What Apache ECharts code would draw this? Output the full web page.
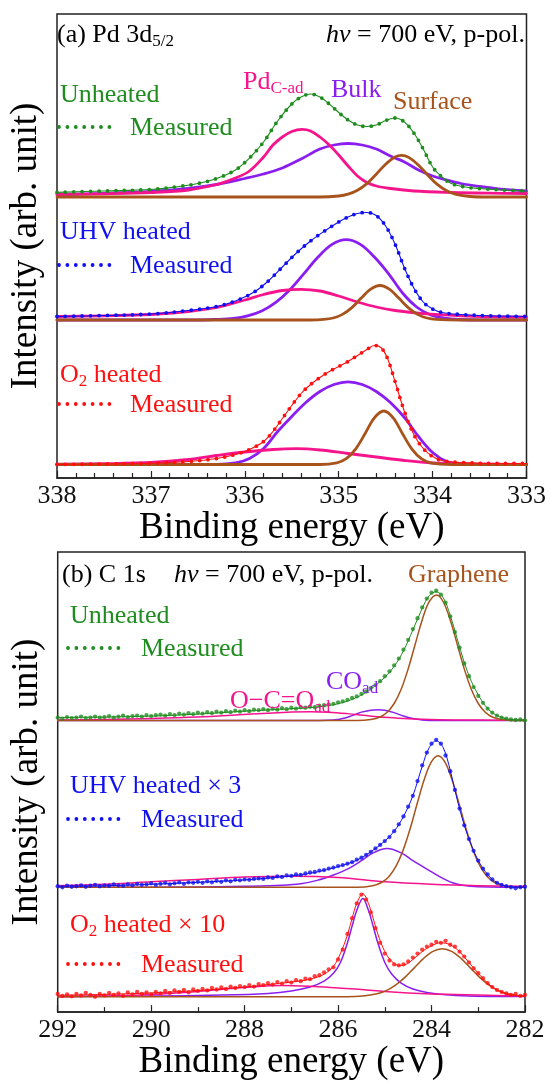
<!DOCTYPE html>
<html lang="en">
<head>
<meta charset="UTF-8">
<title>Pd 3d / C 1s XPS</title>
<script src="https://cdn.jsdelivr.net/npm/echarts@6/dist/echarts.min.js"></script>
<style>html,body{margin:0;padding:0;background:#fff;}</style>
</head>
<body>
<div id="main" style="width:549px;height:1082px;"></div>
<script>
// energies in eV, heights above each spectrum's own baseline (arbitrary units)

// ---- (a) Pd 3d5/2 ----
const aTicks = [338, 337, 336, 335, 334, 333];
const aBase = [281, 158, 13.5]; // unheated, UHV heated, O2 heated

const aUnheatedEnv = [[338,4.6],[337.5,6],[337,7.5],[336.7,10.5],[336.5,13.5],[336.3,18.5],[336.1,27],[335.95,39],[335.8,55],[335.65,76],[335.5,93],[335.4,100],[335.3,103],[335.2,100],[335.1,93],[335.0,84.5],[334.9,77],[334.8,72],[334.7,70.5],[334.6,72],[334.5,76.5],[334.4,79],[334.3,75],[334.2,64],[334.1,48],[334.0,30],[333.9,20],[333.8,13.5],[333.65,10],[333.5,8.5],[333.25,7],[333,6]];
const aUnheatedBulk = [[338,2.5],[337.5,3.6],[337,5.5],[336.6,8.5],[336.3,12.5],[336.0,18.5],[335.8,23],[335.6,29],[335.4,38],[335.2,48],[335.05,52],[334.9,53.5],[334.75,52],[334.6,48],[334.45,41],[334.3,35],[334.15,27],[334.0,21],[333.85,17],[333.7,13.5],[333.5,10.5],[333.3,8.2],[333,6]];
const aUnheatedPd = [[338,2.5],[337.5,3.2],[337,4.5],[336.6,7],[336.3,12.5],[336.1,19],[335.95,26],[335.8,40],[335.7,52],[335.6,60],[335.5,65.5],[335.39,67.6],[335.3,66],[335.2,60],[335.1,52],[335.0,42],[334.9,31],[334.8,21],[334.7,14.5],[334.6,11],[334.45,8.5],[334.2,6],[333.8,4.5],[333.4,3.8],[333,3.5]];
const aUnheatedSurf = [[338,0],[335.2,0],[335.0,1],[334.9,2.8],[334.8,6.7],[334.7,13.4],[334.6,22.8],[334.5,32.8],[334.4,40],[334.33,41.6],[334.25,39.4],[334.15,31.8],[334.05,21.8],[333.95,12.6],[333.85,6.2],[333.75,2.6],[333.6,0.5],[333.4,0],[333,0]];

const aUhvEnv = [[338,3.5],[337.5,4.5],[337,6],[336.6,9.5],[336.3,13.5],[336.1,19],[335.9,28],[335.75,39],[335.6,53],[335.45,67],[335.3,79],[335.15,89],[335.0,98],[334.9,103],[334.8,106.5],[334.7,107.5],[334.6,104.5],[334.5,94],[334.4,76],[334.3,52],[334.2,32],[334.1,18],[334.0,11],[333.9,7.5],[333.7,5.5],[333.4,4.2],[333,3.5]];
const aUhvBulk = [[338,0],[336.5,0],[336.32,0.5],[336.12,1.6],[335.97,4.1],[335.82,9],[335.67,17.6],[335.52,30.3],[335.37,46.4],[335.22,63],[335.07,75.6],[334.92,80.3],[334.77,75.6],[334.62,63],[334.47,46.4],[334.32,27],[334.17,13],[334.02,5],[333.87,1.8],[333.72,0.5],[333.5,0],[333,0]];
const aUhvPd = [[338,3.5],[337.5,4.2],[337,5.5],[336.6,8.5],[336.3,12.5],[336.0,20],[335.8,25.5],[335.6,29.5],[335.4,30.7],[335.2,29],[335.0,24],[334.8,18],[334.6,13],[334.4,9.5],[334.1,6.3],[333.7,4.2],[333.3,3.2],[333,2.8]];
const aUhvSurf = [[338,0],[335.3,0],[335.16,0.6],[335.06,2],[334.96,5.6],[334.86,12.4],[334.76,21.9],[334.66,30.8],[334.56,34.5],[334.46,30.8],[334.36,21.9],[334.26,12.4],[334.16,5.6],[334.06,2],[333.96,0.6],[333.7,0],[333,0]];

const aO2Env = [[338,0],[337.5,0.5],[337,1.2],[336.6,3],[336.3,6],[336.1,10],[335.95,15],[335.8,23],[335.7,33],[335.6,46],[335.5,59],[335.4,71],[335.3,80],[335.2,87],[335.1,93],[335.0,98],[334.9,103],[334.8,109],[334.7,115],[334.62,119],[334.55,117],[334.48,106],[334.4,83],[334.3,53],[334.2,30],[334.1,16],[334.0,8],[333.9,4],[333.7,2],[333.3,1],[333,1]];
const aO2Bulk = [[338,0],[336.3,0],[336.1,1.5],[335.95,6],[335.8,16],[335.65,33],[335.5,48],[335.35,62],[335.2,73],[335.05,80],[334.9,82.6],[334.75,80],[334.6,73],[334.45,62],[334.3,47],[334.15,28],[334.0,12],[333.85,3],[333.7,0.5],[333.5,0],[333,0]];
const aO2Pd = [[338,0.3],[337.5,0.8],[337,2],[336.6,5],[336.3,9],[336,12.5],[335.7,15],[335.45,15.8],[335.2,14.5],[334.9,11],[334.6,7.5],[334.3,4],[334.0,1.5],[333.6,0.5],[333,0.2]];
const aO2Surf = [[338,0],[335.2,0],[335.02,1.7],[334.92,5.8],[334.82,15.4],[334.72,30.7],[334.62,46.6],[334.52,53.5],[334.42,46.6],[334.32,30.7],[334.22,15.4],[334.12,5.8],[334.02,1.7],[333.8,0],[333,0]];

// ---- (b) C 1s ----
const bTicks = [292, 290, 288, 286, 284, 282];
const bBase = [296.6, 127, 15.5];
const bStart = 292, bStep = 0.1; // measured points every 0.1 eV from 292 down to 282

const bUnheatedMeas = [3,2,3.5,2.5,3,4,2.5,3,4,3,3.5,4.5,3,4,5,3.5,4.5,5,4,5.5,4.5,5.5,6,5,6.5,5.5,7,6,7.5,6.5,8,7,8.5,7.5,9,8,9.5,8.5,10,9,10.5,9.5,11,10.5,11.5,10.5,12,11,12.5,11.5,13,12,13.5,13,14,13.5,15,15.5,16.5,17,18.5,19.5,21,23,24.5,27,29.5,33,36,40,45,50,56,63,72,82,93,104,115,124,130,132,128,120,106,90,74,58,45,34,25,18,12,8,5,3,2,1,0.5,1,0];
const bUnheatedFit = [[292,3],[291,3.5],[290,4.5],[289,6.5],[288,9.5],[287,12],[286.5,13.5],[286,17],[285.6,23.5],[285.3,32],[285,44],[284.8,55],[284.6,71],[284.4,92],[284.2,114],[284.05,127],[283.9,131],[283.75,125],[283.6,107],[283.45,83],[283.3,59],[283.15,40],[283,26],[282.85,15],[282.7,8],[282.5,3],[282.3,1],[282,0.3]];
const bUnheatedCO = [[292,0],[286.4,0],[286.1,0.5],[285.9,2],[285.7,5],[285.5,8.5],[285.3,10.5],[285.15,11],[285.0,10.5],[284.8,8],[284.6,4.5],[284.4,2],[284.2,0.6],[283.9,0],[282,0]];
const bUnheatedOCO = [[292,0.5],[291,1],[290,2],[289,3.5],[288.2,5.5],[287.5,7.5],[287,8.7],[286.6,9],[286.2,8.5],[285.8,7],[285.4,5],[285,3.2],[284.6,2],[284.2,1.2],[283.5,0.6],[282.5,0.3],[282,0.2]];
const bUnheatedGr = [[292,0],[285.6,0],[285.3,1],[285.1,3.6],[284.95,8.4],[284.8,17.3],[284.65,31.8],[284.5,52.5],[284.35,77.5],[284.2,102.3],[284.05,120.8],[283.89,127.7],[283.75,120.8],[283.6,102.3],[283.45,77.5],[283.3,52.5],[283.15,31.8],[283.0,17.3],[282.85,8.4],[282.7,3.6],[282.5,1],[282.2,0],[282,0]];

const bUhvMeas = [1,0,1.5,0.5,1,2,0.5,1.5,2.5,1,2,1.5,3,2,1.5,3,2,3.5,2.5,3,4,2.5,3.5,4.5,3,4,5,3.5,5,4.5,5.5,4.5,6,5,6.5,5.5,7,6,7.5,7,8,7.5,8.5,9,8.5,10,9.5,11,10.5,12,11.5,13,12.5,14,15,15.5,17,17.5,19,20,21.5,22.5,24,25.5,28,30,33,36,39.5,43,47,51,57,64,72,82,93,108,124,137,146,150,146,134,118,99,80,63,49,37,27,19,13,8,4.5,2.5,1,0,-1,0,0.5];
const bUhvFit = [[292,1],[291,1.5],[290,3],[289,5],[288,7.5],[287,11.5],[286.5,15],[286,21],[285.6,27.5],[285.3,36],[285,47],[284.8,57],[284.6,72],[284.4,93],[284.2,123],[284.05,142],[283.9,149],[283.75,142],[283.6,119],[283.45,89],[283.3,63],[283.15,43],[283,27],[282.85,16],[282.7,8],[282.5,2.5],[282.3,0.5],[282,0]];
const bUhvCO = [[292,0],[289,0.3],[288,1],[287.2,2],[286.8,3.5],[286.45,7],[286.1,12.5],[285.8,18.5],[285.5,27],[285.25,35],[284.95,39.4],[284.65,35],[284.4,27],[284.1,18.5],[283.8,10],[283.55,4.5],[283.3,1.8],[283,0.5],[282.5,0],[282,0]];
const bUhvOCO = [[292,1.5],[291,3],[290,5.5],[289,8],[288,10.5],[287,11.3],[286,10],[285,5.5],[284,3],[283,1.6],[282,1]];
const bUhvGr = [[292,0],[285.6,0],[285.26,1.6],[285.06,5.1],[284.91,11],[284.76,21.4],[284.61,37.5],[284.46,59.2],[284.31,84.6],[284.16,109],[284.01,127],[283.86,133.8],[283.71,127],[283.56,109],[283.41,84.6],[283.26,59.2],[283.11,37.5],[282.96,21.4],[282.81,11],[282.66,5.1],[282.46,1.6],[282.2,0],[282,0]];

const bO2Meas = [3,1,2.5,0.5,3,1.5,4,2,0,3,1.5,4,2,3.5,1,4.5,2.5,5,3,4.5,2.5,5,3.5,6,4,6.5,5,7,4.5,7.5,6,8,6.5,9,7.5,9.5,8,10.5,9,11,10,12,10.5,13,12,14,12.5,15,13.5,16,14.5,17,16,18.5,18,21,22,25,28,30,38,48,64,80,95,104,99,86,70,55,44,37,33,32,33,36,40,44,48,51,53,56,55,57,53,51,46,41,35,29,24,19,14,10,7,5,3.5,2,3,1,2];
const bO2Fit = [[292,1.5],[291,2.5],[290,4],[289,6.5],[288,10],[287.5,12.5],[287,15],[286.6,18],[286.3,23],[286.1,31],[285.95,44],[285.8,63],[285.7,80],[285.6,95],[285.47,105],[285.35,95],[285.25,80],[285.15,64],[285.0,46],[284.85,36],[284.7,32],[284.55,33],[284.4,38],[284.2,46],[284.0,52],[283.8,55],[283.6,53],[283.4,46],[283.2,35],[283.0,24],[282.8,14],[282.6,7],[282.4,3],[282.2,1.5],[282,1]];
const bO2CO = [[292,0.3],[290,0.8],[288.5,1.8],[287.5,3.5],[287,6],[286.6,10],[286.3,16],[286.1,24],[285.95,35],[285.8,55],[285.7,72],[285.6,88],[285.47,100],[285.35,88],[285.25,72],[285.15,55],[285.0,35],[284.85,23],[284.65,14],[284.4,8],[284.1,4.5],[283.7,2.2],[283.2,1],[282.5,0.4],[282,0.3]];
const bO2OCO = [[292,0],[291,1],[290,2.5],[289,5.5],[288,9.5],[287.2,11.6],[286.5,10.5],[286,9],[285.5,7.5],[285,5.5],[284.5,4],[284,3],[283.5,2.5],[283,1.8],[282,1]];
const bO2Gr = [[292,0],[285.8,0],[285.47,0.8],[285.17,3.1],[284.97,6.4],[284.77,12],[284.57,19.8],[284.37,29.5],[284.17,39.1],[283.97,46.3],[283.77,49],[283.57,46.3],[283.37,39.1],[283.17,29.5],[282.97,19.8],[282.77,12],[282.57,6.4],[282.37,3.1],[282.07,0.8],[282,0.6]];

// ---- styling ----
const SERIF = "'Liberation Serif', 'Times New Roman', serif";
const GREEN = '#1f8c1f', BLUE = '#1010f0', RED = '#ff1010';
const PINK = '#f5148c', PURPLE = '#8a1ef0', BROWN = '#a8531c';

function lift(arr, b) {
    return arr.map(p => [p[0], p[1] + b]);
}

function measPoints(vals, b) {
    return vals.map((v, i) => [+(bStart - i * bStep).toFixed(2), v + b]);
}

function curve(g, data, color, width, z) {
    return {
        type: 'line', xAxisIndex: g, yAxisIndex: g, data: data,
        smooth: 0.35, showSymbol: false, silent: true, z: z,
        lineStyle: { color: color, width: width, cap: 'round', join: 'round' }
    };
}

function dotted(g, data, color) {
    return {
        type: 'line', xAxisIndex: g, yAxisIndex: g, data: data,
        smooth: 0.35, showSymbol: false, silent: true, z: 6,
        lineStyle: { color: color, width: 3.8, type: [0, 8.4], cap: 'round' }
    };
}

function dots(g, data, color) {
    return {
        type: 'scatter', xAxisIndex: g, yAxisIndex: g, data: data,
        symbolSize: 4.3, silent: true, z: 6,
        itemStyle: { color: color }
    };
}

const series = [];
// panel (a)
[[aUnheatedEnv, aUnheatedBulk, aUnheatedPd, aUnheatedSurf, GREEN],
 [aUhvEnv, aUhvBulk, aUhvPd, aUhvSurf, BLUE],
 [aO2Env, aO2Bulk, aO2Pd, aO2Surf, RED]].forEach((s, k) => {
    const b = aBase[k];
    series.push(curve(0, lift(s[1], b), PURPLE, 2.8, 2));
    series.push(curve(0, lift(s[2], b), PINK, 2.8, 3));
    series.push(curve(0, lift(s[3], b), BROWN, 2.8, 4));
    series.push(curve(0, lift(s[0], b), s[4], 1.1, 5));
    series.push(dotted(0, lift(s[0], b), s[4]));
});
// panel (b)
[[bUnheatedMeas, bUnheatedFit, bUnheatedCO, bUnheatedOCO, bUnheatedGr, GREEN],
 [bUhvMeas, bUhvFit, bUhvCO, bUhvOCO, bUhvGr, BLUE],
 [bO2Meas, bO2Fit, bO2CO, bO2OCO, bO2Gr, RED]].forEach((s, k) => {
    const b = bBase[k];
    series.push(curve(1, lift(s[2], b), PURPLE, 1.5, 2));
    series.push(curve(1, lift(s[3], b), PINK, 1.5, 3));
    series.push(curve(1, lift(s[4], b), BROWN, 1.5, 4));
    series.push(curve(1, lift(s[1], b), s[5], 1, 5));
    series.push(dots(1, measPoints(s[0], b), s[5]));
});

function xAxis(g, ticks, interval, minorSplit) {
    return {
        type: 'value', gridIndex: g, inverse: true,
        min: Math.min(...ticks), max: Math.max(...ticks), interval: interval,
        name: 'Binding energy (eV)', nameLocation: 'middle', nameGap: 30,
        nameTextStyle: { fontFamily: SERIF, fontSize: 37, color: '#000' },
        axisLine: { show: true, lineStyle: { color: '#222', width: 1.5 } },
        axisTick: { inside: true, length: 7, lineStyle: { color: '#222', width: 1.2 } },
        minorTick: { show: true, splitNumber: minorSplit, length: 5, lineStyle: { color: '#222', width: 1.2 } },
        axisLabel: { fontFamily: SERIF, fontSize: 26, color: '#111', margin: 5 },
        splitLine: { show: false }
    };
}

function yAxis(g, max) {
    return {
        type: 'value', gridIndex: g, min: 0, max: max,
        name: 'Intensity (arb. unit)', nameLocation: 'middle', nameRotate: 90, nameGap: 12,
        nameTextStyle: { fontFamily: SERIF, fontSize: 37, color: '#000' },
        axisLine: { show: false }, axisTick: { show: false },
        axisLabel: { show: false }, splitLine: { show: false }
    };
}

// ---- annotations ----
const RICH = {
    m: { fontFamily: SERIF, fontSize: 26, lineHeight: 30 },
    i: { fontFamily: SERIF, fontSize: 26, lineHeight: 30, fontStyle: 'italic' },
    s: { fontFamily: SERIF, fontSize: 17, lineHeight: 13, verticalAlign: 'bottom' }
};

function txt(x, y, text, color, align) {
    return {
        type: 'text', x: x, y: y, silent: true, z: 20,
        style: {
            text: text, rich: RICH, fill: color,
            align: align || 'left', verticalAlign: 'middle',
            textAlign: align || 'left', textVerticalAlign: 'middle'
        }
    };
}

function sample(x1, x2, y, color) {
    return {
        type: 'line', silent: true, z: 20,
        shape: { x1: x1, y1: y, x2: x2, y2: y },
        style: { stroke: color, lineWidth: 3.8, lineDash: [0, 8.4], lineCap: 'round' }
    };
}

const hv = '{i|hν}{m| = 700 eV, p-pol.}';
const graphics = [
    txt(57, 35, '{m|(a) Pd 3d}{s|5/2}', '#000'),
    txt(525, 35, hv, '#000', 'right'),
    txt(243, 82, '{m|Pd}{s|C-ad}', PINK),
    txt(331, 90, '{m|Bulk}', PURPLE),
    txt(393, 102, '{m|Surface}', BROWN),
    txt(60, 95, '{m|Unheated}', GREEN),
    sample(59, 116, 127, GREEN), txt(130, 128, '{m|Measured}', GREEN),
    txt(60, 232, '{m|UHV heated}', BLUE),
    sample(59, 116, 265, BLUE), txt(130, 266, '{m|Measured}', BLUE),
    txt(60, 375, '{m|O}{s|2}{m| heated}', RED),
    sample(59, 116, 404, RED), txt(130, 405, '{m|Measured}', RED),

    txt(62, 575, '{m|(b) C 1s}', '#000'),
    txt(174, 575, hv, '#000'),
    txt(408, 575, '{m|Graphene}', BROWN),
    txt(70, 616, '{m|Unheated}', GREEN),
    sample(68, 125, 648, GREEN), txt(141, 649, '{m|Measured}', GREEN),
    txt(326, 682, '{m|CO}{s|ad}', PURPLE),
    txt(230, 701, '{m|O−C=O}{s|ad}', PINK),
    txt(70, 786, '{m|UHV heated × 3}', BLUE),
    sample(68, 125, 819, BLUE), txt(141, 820, '{m|Measured}', BLUE),
    txt(70, 925, '{m|O}{s|2}{m| heated × 10}', RED),
    sample(68, 125, 964, RED), txt(141, 965, '{m|Measured}', RED)
];

const option = {
    animation: false,
    backgroundColor: '#fff',
    grid: [
        { left: 52.5, top: 14, width: 475.5, height: 464, show: true, borderColor: '#222', borderWidth: 1.5 },
        { left: 57.7, top: 552, width: 467.3, height: 468, show: true, borderColor: '#222', borderWidth: 1.5 }
    ],
    xAxis: [xAxis(0, aTicks, 1, 5), xAxis(1, bTicks, 2, 2)],
    yAxis: [yAxis(0, 464), yAxis(1, 468)],
    series: series,
    graphic: graphics
};

const chart = echarts.init(document.getElementById('main'), null, { renderer: 'canvas' });
chart.setOption(option);
</script>
</body>
</html>
